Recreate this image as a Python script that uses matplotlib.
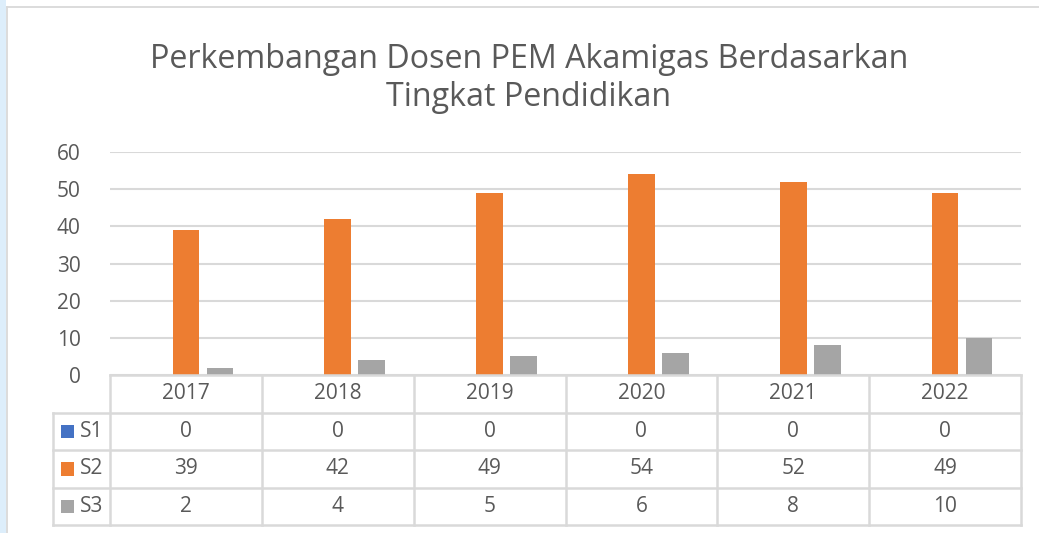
import numpy as np
import matplotlib.pyplot as plt
from matplotlib.patches import Rectangle

plt.rcParams['font.family'] = ['Open Sans', 'DejaVu Sans']

tahun = ['2017', '2018', '2019', '2020', '2021', '2022']
seri = ['S1', 'S2', 'S3']
s1 = [0, 0, 0, 0, 0, 0]
s2 = [39, 42, 49, 54, 52, 49]
s3 = [2, 4, 5, 6, 8, 10]
warna = ['#4472C4', '#ED7D31', '#A5A5A5']
judul = 'Perkembangan Dosen PEM Akamigas Berdasarkan\nTingkat Pendidikan'

W, H = 1039, 533
TXT = '#595959'
GRID = '#D9D9D9'

fig = plt.figure(figsize=(W / 100, H / 100), dpi=100)

# latar / bingkai
bg = fig.add_axes([0, 0, 1, 1])
bg.set_xlim(0, W)
bg.set_ylim(H, 0)
bg.axis('off')
bg.add_patch(Rectangle((0, 0), 6, H, color='#DDEEFB', lw=0))
bg.plot([7, 7], [7, H], color=GRID, lw=1.3)
bg.plot([7, W], [7, 7], color=GRID, lw=1.3)
bg.text(529, 78, judul, ha='center', va='center', fontsize=23.2, color=TXT,
        linespacing=1.2)

# grafik batang
ax = fig.add_axes([110 / W, 1 - 375 / H, (1021 - 110) / W, (375 - 152) / H])
x = np.arange(len(tahun))
lebar = 0.175
jarak = 0.224
for i, (nama, nilai) in enumerate(zip(seri, [s1, s2, s3])):
    ax.bar(x + (i - 1) * jarak, nilai, lebar, color=warna[i], zorder=3)
ax.set_xlim(-0.5, len(tahun) - 0.5)
ax.set_ylim(0, 60)
ax.set_yticks(range(0, 61, 10))
ax.tick_params(axis='y', length=0, labelsize=15, labelcolor=TXT, pad=21)
ax.set_xticks([])
ax.grid(axis='y', color=GRID, lw=1.5, zorder=0)
for s in ax.spines.values():
    s.set_visible(False)

# tabel data
tab = fig.add_axes([110 / W, 1 - 525 / H, (1021 - 110) / W, 150 / H])
tab.set_xlim(-0.5, len(tahun) - 0.5)
tab.set_ylim(4, 0)
tab.axis('off')
kiri = -0.5 - 57 / 151.8
lw = 1.8
# garis horizontal
tab.plot([-0.5, 5.5], [0, 0], color=GRID, lw=lw, clip_on=False)
for r in range(1, 5):
    tab.plot([kiri, 5.5], [r, r], color=GRID, lw=lw, clip_on=False)
# garis vertikal
for c in range(len(tahun) + 1):
    tab.plot([c - 0.5, c - 0.5], [0, 4], color=GRID, lw=lw, clip_on=False)
tab.plot([kiri, kiri], [1, 4], color=GRID, lw=lw, clip_on=False)

for j, t in enumerate(tahun):
    tab.text(j, 0.5, t, ha='center', va='center', fontsize=15, color=TXT)
for i, (nama, nilai) in enumerate(zip(seri, [s1, s2, s3])):
    for j, v in enumerate(nilai):
        tab.text(j, i + 1.5, str(v), ha='center', va='center', fontsize=15, color=TXT)
    kotak = kiri + 8 / 151.8
    tab.add_patch(Rectangle((kotak, i + 1.5 - 0.18), 13 / 151.8, 0.36,
                            color=warna[i], clip_on=False, lw=0))
    tab.text(kiri + 27 / 151.8, i + 1.5, nama, ha='left', va='center',
             fontsize=15, color=TXT)

fig.savefig('out.png', dpi=100)
